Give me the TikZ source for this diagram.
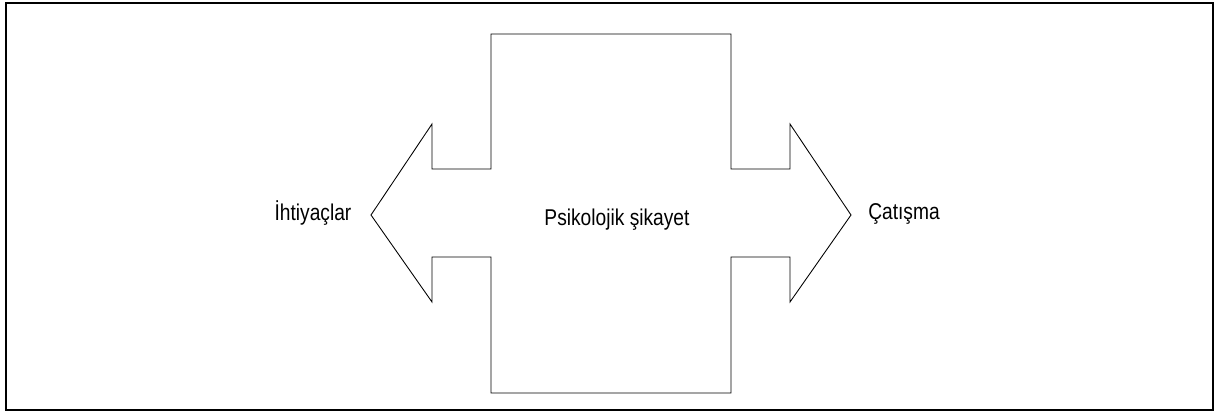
\documentclass[tikz,border=0pt]{standalone}
\usepackage{fontspec}
\setmainfont[FakeStretch=0.84]{Liberation Sans}

\begin{document}
\begin{tikzpicture}[x=0.02cm,y=-0.02cm,line width=0.5pt,
  etiket/.style={font=\fontsize{13}{15}\selectfont,inner sep=0,anchor=base}]
\useasboundingbox (0,0) rectangle (1215,412);
\draw[line width=0.8pt] (6,3) rectangle (1213,410);

% Ortadaki kutu, iki yana ok
\draw (491,34) -- (731,34) -- (731,169) -- (790,169) -- (790,124)
  -- (851,215) -- (790,302) -- (790,257) -- (731,257) -- (731,393)
  -- (491,393) -- (491,257) -- (432,257) -- (432,302) -- (371,215)
  -- (432,124) -- (432,169) -- (491,169) -- cycle;

\node[etiket] (ihtiyac) at (313,220) {İhtiyaçlar};
\node[etiket] (sikayet) at (617,226) {Psikolojik şikayet};
\node[etiket] (catisma) at (904,219) {Çatışma};
\end{tikzpicture}
\end{document}
